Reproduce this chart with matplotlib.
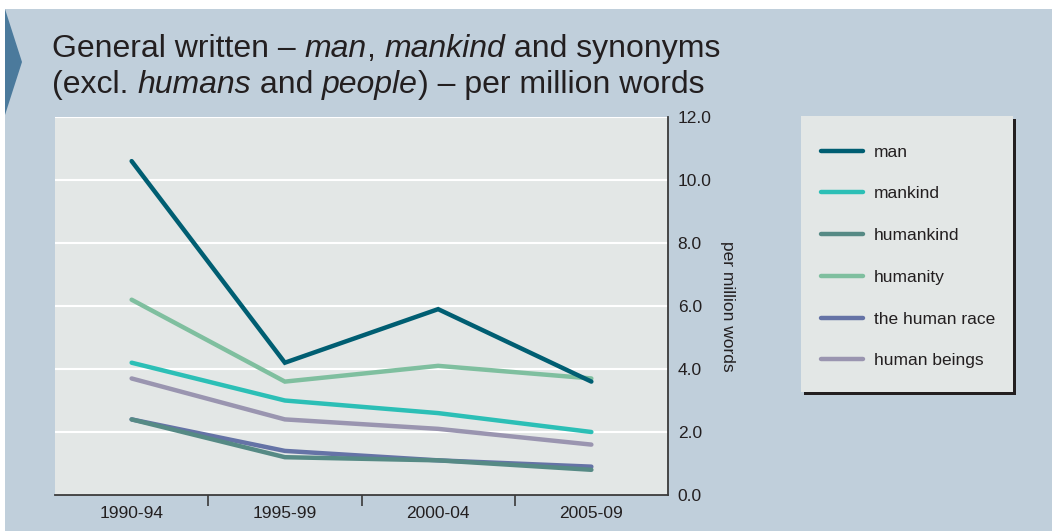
import numpy as np
import matplotlib.pyplot as plt
from matplotlib.patches import Rectangle, Polygon
from matplotlib.ticker import FixedLocator

periods = ['1990-94', '1995-99', '2000-04', '2005-09']
series_names = ['man', 'mankind', 'humankind', 'humanity', 'the human race', 'human beings']
man = [10.6, 4.2, 5.9, 3.6]
mankind = [4.2, 3.0, 2.6, 2.0]
humankind = [2.4, 1.2, 1.1, 0.8]
humanity = [6.2, 3.6, 4.1, 3.7]
human_race = [2.4, 1.4, 1.1, 0.9]
human_beings = [3.7, 2.4, 2.1, 1.6]
yticks = [0, 2, 4, 6, 8, 10, 12]

colors = ['#005e72', '#2cbfb6', '#568a85', '#7fbf9f', '#6573a6', '#9a95b0']
bg = '#c0cfdb'
panel = '#e3e7e6'
txt = '#231f20'

plt.rcParams['font.family'] = ['Liberation Sans', 'DejaVu Sans']
small = 12.5

W, H = 1052, 531
fig = plt.figure(figsize=(W / 100, H / 100), dpi=100, facecolor='white')

def px(x, y):
    return x / W, 1 - y / H

# background panel and arrow
fig.patches.append(Rectangle(px(5, 531), 1 - 5 / W, 1 - 9 / H, transform=fig.transFigure,
                             facecolor=bg, edgecolor='none', zorder=0))
fig.patches.append(Polygon([px(5, 9), px(22, 62), px(5, 115)], closed=True, transform=fig.transFigure,
                           facecolor='#4b7a9c', edgecolor='none', zorder=1))

ax = fig.add_axes([55 / W, 1 - 495 / H, (668 - 55) / W, (495 - 117) / H])
ax.set_zorder(3)
ax.set_facecolor(panel)
x = np.arange(len(periods))

data = dict(zip(series_names, [man, mankind, humankind, humanity, human_race, human_beings]))
cmap = dict(zip(series_names, colors))
handles = {}
# draw order so overlaps look like the original
for name in ['human beings', 'the human race', 'humankind', 'mankind', 'humanity', 'man']:
    ln, = ax.plot(x, data[name], color=cmap[name], lw=3.2, solid_capstyle='round',
                  solid_joinstyle='miter', zorder=3)
    handles[name] = ln

ax.set_xlim(-0.5, 3.5)
ax.set_ylim(0, 12)
for s in ['top', 'left']:
    ax.spines[s].set_visible(False)
for s in ['bottom', 'right']:
    ax.spines[s].set_color('#3a3a3a')
    ax.spines[s].set_linewidth(1.3)
ax.yaxis.tick_right()
ax.yaxis.set_label_position('right')
ax.set_yticks(yticks)
ax.set_yticklabels([f'{v:.1f}' for v in yticks], fontsize=small, color=txt)
ax.tick_params(axis='y', length=0, pad=7)
ax.grid(axis='y', color='white', lw=1.5)
ax.set_axisbelow(True)
ax.set_xticks(x)
ax.set_xticklabels(periods, fontsize=small, color=txt)
ax.tick_params(axis='x', which='major', length=0, pad=8)
ax.xaxis.set_minor_locator(FixedLocator([0.5, 1.5, 2.5]))
ax.tick_params(axis='x', which='minor', length=8, width=1.2, color='#3a3a3a', direction='out')
ax.set_ylabel('per million words', rotation=270, fontsize=small, color=txt, labelpad=17)

# legend box with shadow
lx0, ly0, lx1, ly1 = 801, 116, 1013, 392
fig.patches.append(Rectangle(px(lx0 + 3, ly1 + 3), (lx1 - lx0) / W, (ly1 - ly0) / H, transform=fig.transFigure,
                             facecolor='#231f20', edgecolor='none', zorder=1))
fig.patches.append(Rectangle(px(lx0, ly1), (lx1 - lx0) / W, (ly1 - ly0) / H, transform=fig.transFigure,
                             facecolor=panel, edgecolor='none', zorder=2))
leg = fig.legend([handles[n] for n in series_names], series_names, loc='upper left',
                 bbox_to_anchor=px(805, 129), frameon=False, handlelength=2.45, handletextpad=0.6,
                 labelspacing=1.53, prop={'size': small}, labelcolor=txt)
leg.set_zorder(4)

# title with italic parts
fig.canvas.draw()
renderer = fig.canvas.get_renderer()
lines = [
    [('General written – ', 'normal'), ('man', 'italic'), (', ', 'normal'),
     ('mankind', 'italic'), (' and synonyms', 'normal')],
    [('(excl. ', 'normal'), ('humans', 'italic'), (' and ', 'normal'),
     ('people', 'italic'), (') – per million words', 'normal')],
]
for i, parts in enumerate(lines):
    xpos = 52
    ybase = 57 + i * 36
    for s, style in parts:
        t = fig.text(*px(xpos, ybase), s, fontsize=23, style=style, color=txt,
                     ha='left', va='baseline')
        bb = t.get_window_extent(renderer)
        xpos += bb.width

fig.savefig('out.png', dpi=100, facecolor=fig.get_facecolor())
